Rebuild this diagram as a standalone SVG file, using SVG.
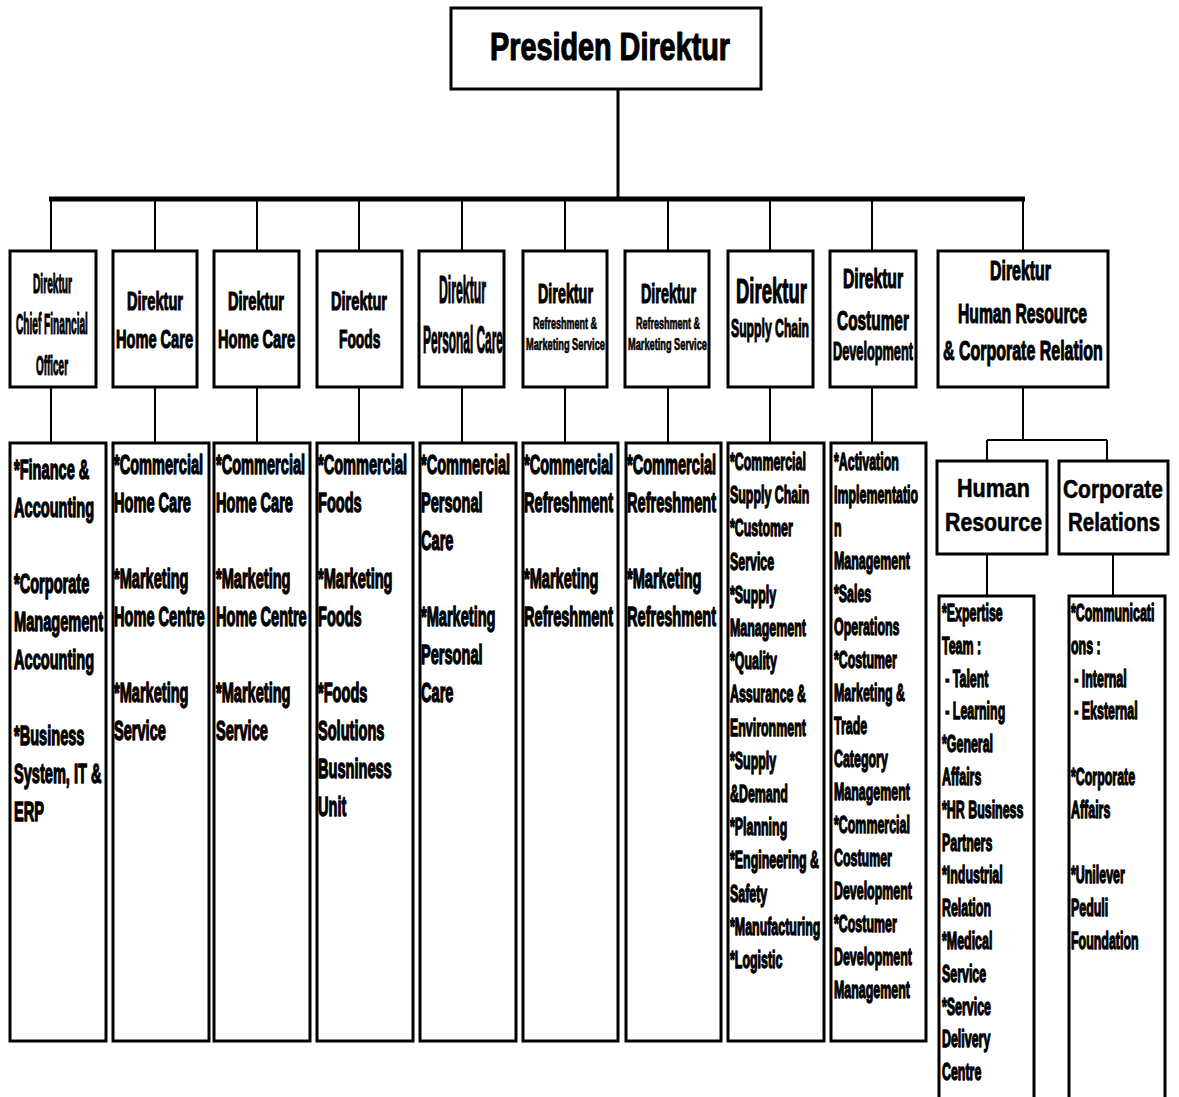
<svg xmlns="http://www.w3.org/2000/svg" width="1179" height="1097" viewBox="0 0 1179 1097">
<style>
.box{fill:#fff;stroke:#000;stroke-width:3}
.ln{stroke:#000;stroke-width:2;fill:none}
.h{font-family:"Liberation Sans",Arial,sans-serif;font-weight:bold;fill:#000;stroke:#000;stroke-width:1.2;stroke-linejoin:round}
.d27{font-family:"Liberation Sans",Arial,sans-serif;font-weight:bold;font-size:27px;fill:#000;stroke:#000;stroke-width:1.4;stroke-linejoin:round}
.d23{font-family:"Liberation Sans",Arial,sans-serif;font-weight:bold;font-size:23px;fill:#000;stroke:#000;stroke-width:1.3;stroke-linejoin:round}
</style>
<rect width="1179" height="1097" fill="#fff"/>
<g id="connectors">
<line class="ln" x1="618" y1="89" x2="618" y2="199" style="stroke-width:3"/>
<line class="ln" x1="49" y1="199" x2="1025" y2="199" style="stroke-width:5"/>
<path class="ln" d="M51 199V251M155 199V251M257 199V251M359 199V251M462 199V251M565 199V251M668 199V251M770 199V251M872 199V251M1023 199V251"/>
<path class="ln" d="M51 387V443M155 387V443M257 387V443M359 387V443M462 387V443M565 387V443M668 387V443M770 387V443M872 387V443"/>
<path class="ln" d="M1023 387V440M987 440H1107M987 440V461M1107 440V461M987 554V596M1113 554V596"/>
</g>
<g id="presiden">
<rect class="box" x="451" y="8" width="310" height="81"/>
<text class="h" font-size="38" transform="translate(490,60) scale(0.758,1)">Presiden Direktur</text>
</g>
<g id="dir-cfo">
<rect class="box" x="10" y="251" width="86" height="136"/>
<text class="h" font-size="27" transform="translate(33,293) scale(0.377,1)">Direktur</text>
<text class="h" font-size="29" transform="translate(16,334) scale(0.349,1)">Chief Financial</text>
<text class="h" font-size="27" transform="translate(36,375) scale(0.368,1)">Officer</text>
</g>
<g id="dir-homecare-1">
<rect class="box" x="113" y="251" width="84" height="136"/>
<text class="h" font-size="26" transform="translate(127,310) scale(0.562,1)">Direktur</text>
<text class="h" font-size="26" transform="translate(116,348) scale(0.561,1)">Home Care</text>
</g>
<g id="dir-homecare-2">
<rect class="box" x="214" y="251" width="85" height="136"/>
<text class="h" font-size="26" transform="translate(228,310) scale(0.562,1)">Direktur</text>
<text class="h" font-size="26" transform="translate(218,348) scale(0.561,1)">Home Care</text>
</g>
<g id="dir-foods">
<rect class="box" x="317" y="251" width="85" height="136"/>
<text class="h" font-size="26" transform="translate(331,310) scale(0.562,1)">Direktur</text>
<text class="h" font-size="26" transform="translate(339,348) scale(0.53,1)">Foods</text>
</g>
<g id="dir-personalcare">
<rect class="box" x="419" y="251" width="85" height="136"/>
<text class="h" font-size="38" transform="translate(439,303) scale(0.323,1)">Direktur</text>
<text class="h" font-size="38" transform="translate(423,353) scale(0.313,1)">Personal Care</text>
</g>
<g id="dir-refreshment-1">
<rect class="box" x="523" y="251" width="84" height="136"/>
<text class="h" font-size="27" transform="translate(538,303) scale(0.531,1)">Direktur</text>
<text class="h" font-size="16" style="stroke-width:0.7" transform="translate(533,329) scale(0.563,1)">Refreshment &amp;</text>
<text class="h" font-size="16" style="stroke-width:0.7" transform="translate(526,350) scale(0.577,1)">Marketing Service</text>
</g>
<g id="dir-refreshment-2">
<rect class="box" x="625" y="251" width="84" height="136"/>
<text class="h" font-size="27" transform="translate(641,303) scale(0.531,1)">Direktur</text>
<text class="h" font-size="16" style="stroke-width:0.7" transform="translate(636,329) scale(0.563,1)">Refreshment &amp;</text>
<text class="h" font-size="16" style="stroke-width:0.7" transform="translate(628,350) scale(0.577,1)">Marketing Service</text>
</g>
<g id="dir-supplychain">
<rect class="box" x="728" y="251" width="85" height="136"/>
<text class="h" font-size="36" transform="translate(736,303) scale(0.514,1)">Direktur</text>
<text class="h" font-size="26" transform="translate(731,337) scale(0.47,1)">Supply Chain</text>
</g>
<g id="dir-costumer">
<rect class="box" x="830" y="251" width="86" height="136"/>
<text class="h" font-size="27" transform="translate(843,288) scale(0.58,1)">Direktur</text>
<text class="h" font-size="27" transform="translate(837,330) scale(0.571,1)">Costumer</text>
<text class="h" font-size="26" transform="translate(833,360) scale(0.49,1)">Development</text>
</g>
<g id="dir-hr-cr">
<rect class="box" x="938" y="251" width="170" height="136"/>
<text class="h" font-size="27" transform="translate(990,280) scale(0.589,1)">Direktur</text>
<text class="h" font-size="28" transform="translate(958,323) scale(0.56,1)">Human Resource</text>
<text class="h" font-size="28" transform="translate(943,360) scale(0.571,1)">&amp; Corporate Relation</text>
</g>
<g id="human-resource">
<rect class="box" x="937" y="461" width="110" height="93"/>
<text class="h" font-size="25" style="stroke-width:0.6" transform="translate(957,497) scale(0.862,1)">Human</text>
<text class="h" font-size="25" style="stroke-width:0.6" transform="translate(945,531) scale(0.852,1)">Resource</text>
</g>
<g id="corporate-relations">
<rect class="box" x="1059" y="461" width="109" height="93"/>
<text class="h" font-size="25" style="stroke-width:0.6" transform="translate(1063,498) scale(0.837,1)">Corporate</text>
<text class="h" font-size="25" style="stroke-width:0.6" transform="translate(1068,531) scale(0.818,1)">Relations</text>
</g>
<g id="cfo-detail">
<rect class="box" x="10" y="443" width="96" height="598"/>
<g transform="translate(14,0) scale(0.54,1)"><text class="d27">
<tspan x="0" y="479">*Finance &amp;</tspan><tspan x="0" y="517">Accounting</tspan>
<tspan x="0" y="593">*Corporate</tspan><tspan x="0" y="631">Management</tspan><tspan x="0" y="669">Accounting</tspan>
<tspan x="0" y="745">*Business</tspan><tspan x="0" y="783">System, IT &amp;</tspan><tspan x="0" y="821">ERP</tspan>
</text></g>
</g>
<g id="homecare-1-detail">
<rect class="box" x="113" y="443" width="96" height="598"/>
<g transform="translate(114,0) scale(0.54,1)"><text class="d27">
<tspan x="0" y="474">*Commercial</tspan><tspan x="0" y="512">Home Care</tspan>
<tspan x="0" y="588">*Marketing</tspan><tspan x="0" y="626">Home Centre</tspan>
<tspan x="0" y="702">*Marketing</tspan><tspan x="0" y="740">Service</tspan>
</text></g>
</g>
<g id="homecare-2-detail">
<rect class="box" x="214" y="443" width="96" height="598"/>
<g transform="translate(216,0) scale(0.54,1)"><text class="d27">
<tspan x="0" y="474">*Commercial</tspan><tspan x="0" y="512">Home Care</tspan>
<tspan x="0" y="588">*Marketing</tspan><tspan x="0" y="626">Home Centre</tspan>
<tspan x="0" y="702">*Marketing</tspan><tspan x="0" y="740">Service</tspan>
</text></g>
</g>
<g id="foods-detail">
<rect class="box" x="317" y="443" width="96" height="598"/>
<g transform="translate(318,0) scale(0.54,1)"><text class="d27">
<tspan x="0" y="474">*Commercial</tspan><tspan x="0" y="512">Foods</tspan>
<tspan x="0" y="588">*Marketing</tspan><tspan x="0" y="626">Foods</tspan>
<tspan x="0" y="702">*Foods</tspan><tspan x="0" y="740">Solutions</tspan><tspan x="0" y="778">Busniness</tspan><tspan x="0" y="816">Unit</tspan>
</text></g>
</g>
<g id="personalcare-detail">
<rect class="box" x="420" y="443" width="96" height="598"/>
<g transform="translate(421,0) scale(0.54,1)"><text class="d27">
<tspan x="0" y="474">*Commercial</tspan><tspan x="0" y="512">Personal</tspan><tspan x="0" y="550">Care</tspan>
<tspan x="0" y="626">*Marketing</tspan><tspan x="0" y="664">Personal</tspan><tspan x="0" y="702">Care</tspan>
</text></g>
</g>
<g id="refreshment-1-detail">
<rect class="box" x="523" y="443" width="95" height="598"/>
<g transform="translate(524,0) scale(0.54,1)"><text class="d27">
<tspan x="0" y="474">*Commercial</tspan><tspan x="0" y="512">Refreshment</tspan>
<tspan x="0" y="588">*Marketing</tspan><tspan x="0" y="626">Refreshment</tspan>
</text></g>
</g>
<g id="refreshment-2-detail">
<rect class="box" x="626" y="443" width="95" height="598"/>
<g transform="translate(627,0) scale(0.54,1)"><text class="d27">
<tspan x="0" y="474">*Commercial</tspan><tspan x="0" y="512">Refreshment</tspan>
<tspan x="0" y="588">*Marketing</tspan><tspan x="0" y="626">Refreshment</tspan>
</text></g>
</g>
<g id="supplychain-detail">
<rect class="box" x="728" y="443" width="96" height="598"/>
<g transform="translate(730,0) scale(0.54,1)"><text class="d23">
<tspan x="0" y="470">*Commercial</tspan><tspan x="0" y="503">Supply Chain</tspan>
<tspan x="0" y="536">*Customer</tspan><tspan x="0" y="570">Service</tspan>
<tspan x="0" y="603">*Supply</tspan><tspan x="0" y="636">Management</tspan>
<tspan x="0" y="669">*Quality</tspan><tspan x="0" y="702">Assurance &amp;</tspan><tspan x="0" y="736">Environment</tspan>
<tspan x="0" y="769">*Supply</tspan><tspan x="0" y="802">&amp;Demand</tspan>
<tspan x="0" y="835">*Planning</tspan>
<tspan x="0" y="868">*Engineering &amp;</tspan><tspan x="0" y="902">Safety</tspan>
<tspan x="0" y="935">*Manufacturing</tspan>
<tspan x="0" y="968">*Logistic</tspan>
</text></g>
</g>
<g id="costumer-detail">
<rect class="box" x="831" y="443" width="95" height="598"/>
<g transform="translate(834,0) scale(0.54,1)"><text class="d23">
<tspan x="0" y="470">*Activation</tspan><tspan x="0" y="503">Implementatio</tspan><tspan x="0" y="536">n</tspan><tspan x="0" y="569">Management</tspan>
<tspan x="0" y="602">*Sales</tspan><tspan x="0" y="635">Operations</tspan>
<tspan x="0" y="668">*Costumer</tspan><tspan x="0" y="701">Marketing &amp;</tspan><tspan x="0" y="734">Trade</tspan><tspan x="0" y="767">Category</tspan><tspan x="0" y="800">Management</tspan>
<tspan x="0" y="833">*Commercial</tspan><tspan x="0" y="866">Costumer</tspan><tspan x="0" y="899">Development</tspan>
<tspan x="0" y="932">*Costumer</tspan><tspan x="0" y="965">Development</tspan><tspan x="0" y="998">Management</tspan>
</text></g>
</g>
<g id="hr-detail">
<rect class="box" x="939" y="596" width="95" height="520"/>
<g transform="translate(942,0) scale(0.54,1)"><text class="d23">
<tspan x="0" y="621">*Expertise</tspan><tspan x="0" y="654">Team :</tspan>
<tspan x="6" y="687">- Talent</tspan><tspan x="6" y="719">- Learning</tspan>
<tspan x="0" y="752">*General</tspan><tspan x="0" y="785">Affairs</tspan>
<tspan x="0" y="818">*HR Business</tspan><tspan x="0" y="851">Partners</tspan>
<tspan x="0" y="883">*Industrial</tspan><tspan x="0" y="916">Relation</tspan>
<tspan x="0" y="949">*Medical</tspan><tspan x="0" y="982">Service</tspan>
<tspan x="0" y="1015">*Service</tspan><tspan x="0" y="1047">Delivery</tspan><tspan x="0" y="1080">Centre</tspan>
</text></g>
</g>
<g id="cr-detail">
<rect class="box" x="1069" y="596" width="96" height="520"/>
<g transform="translate(1071,0) scale(0.54,1)"><text class="d23">
<tspan x="0" y="621">*Communicati</tspan><tspan x="0" y="654">ons :</tspan>
<tspan x="6" y="687">- Internal</tspan><tspan x="6" y="719">- Eksternal</tspan>
<tspan x="0" y="785">*Corporate</tspan><tspan x="0" y="818">Affairs</tspan>
<tspan x="0" y="883">*Unilever</tspan><tspan x="0" y="916">Peduli</tspan><tspan x="0" y="949">Foundation</tspan>
</text></g>
</g>
</svg>
